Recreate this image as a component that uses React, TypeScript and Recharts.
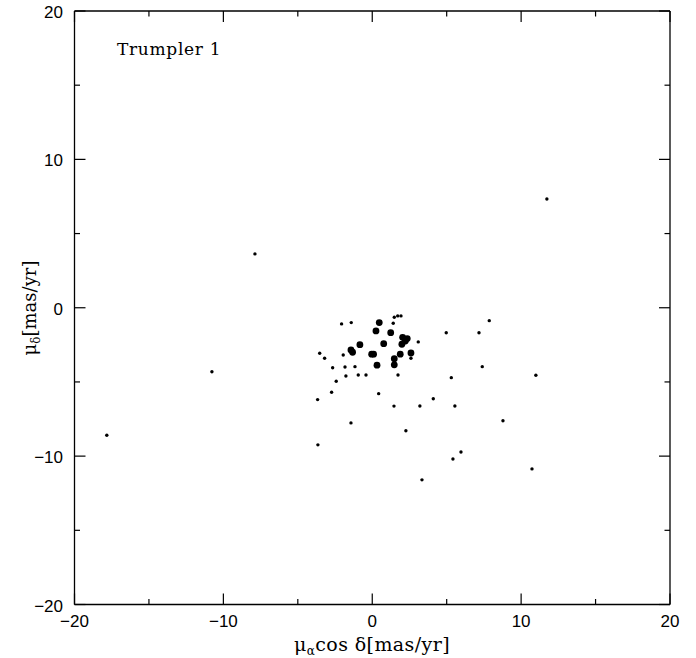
import { ScatterChart, Scatter, XAxis, YAxis } from "recharts";

// proper motions of the brighter members (large dots)
const brightPmRa = [0.47, 0.25, 1.24, 2.04, 2.35, 2.22, 1.99, -0.83, 0.77, -1.43, -1.32, -0.04, 0.09, 1.88, 2.6, 1.48, 0.32, 1.48];
const brightPmDec = [-1.0, -1.56, -1.68, -1.99, -2.08, -2.24, -2.46, -2.49, -2.42, -2.84, -3.0, -3.13, -3.13, -3.13, -3.05, -3.43, -3.87, -3.85];

// fainter stars (small dots)
const faintPmRa = [
  11.73, -7.88, -10.77, -17.83, 10.99, 10.73, 8.78, 7.86, 7.17, 7.39, 4.97, 5.31, 5.55, 5.96, 5.42,
  4.1, 3.2, 3.34, 2.26, 1.46, 0.43, -1.43, -3.65, -3.67, -2.73, -2.42, -3.53, -3.2, -2.06, -1.41,
  1.48, 1.71, 1.93, 1.41, 3.09, -1.95, 2.6, -2.66, -1.83, -1.16, -1.77, -0.94, -0.42, 1.73,
];
const faintPmDec = [
  7.33, 3.63, -4.31, -8.59, -4.55, -10.86, -7.62, -0.87, -1.68, -3.97, -1.68, -4.71, -6.62, -9.72, -10.19,
  -6.13, -6.62, -11.6, -8.29, -6.63, -5.79, -7.76, -9.24, -6.19, -5.69, -4.95, -3.07, -3.4, -1.09, -1.0,
  -0.64, -0.55, -0.55, -1.04, -2.3, -3.18, -3.4, -4.04, -3.99, -3.97, -4.6, -4.53, -4.53, -4.53,
];

const axisTicks = [-20, -15, -10, -5, 0, 5, 10, 15, 20];
const clusterName = "Trumpler 1";

const brightData = brightPmRa.map((x, i) => ({ x, y: brightPmDec[i] }));
const faintData = faintPmRa.map((x, i) => ({ x, y: faintPmDec[i] }));

const MAJOR = 11;
const MINOR = 5.5;
const labelFont = "'Liberation Sans', Arial, sans-serif";
const titleFont = "'DejaVu Serif', serif";

const fmt = (v: number) => (v < 0 ? "\u2212" + Math.abs(v) : String(v));
const isMajor = (v: number) => v % 10 === 0;

const BottomTick = (props: any) => {
  const { x, y, payload } = props;
  const v = payload.value;
  return (
    <g>
      <line x1={x} y1={y} x2={x} y2={y - (isMajor(v) ? MAJOR : MINOR)} stroke="#000" strokeWidth={1.2} />
      {isMajor(v) && (
        <text x={x} y={y + 22.5} textAnchor="middle" fontSize={17} fontFamily={labelFont} fill="#000">
          {fmt(v)}
        </text>
      )}
    </g>
  );
};

const TopTick = (props: any) => {
  const { x, y, payload } = props;
  return <line x1={x} y1={y} x2={x} y2={y + (isMajor(payload.value) ? MAJOR : MINOR)} stroke="#000" strokeWidth={1.2} />;
};

const LeftTick = (props: any) => {
  const { x, y, payload } = props;
  const v = payload.value;
  return (
    <g>
      <line x1={x} y1={y} x2={x + (isMajor(v) ? MAJOR : MINOR)} y2={y} stroke="#000" strokeWidth={1.2} />
      {isMajor(v) && (
        <text x={x - 11.5} y={y + 7} textAnchor="end" fontSize={17} fontFamily={labelFont} fill="#000">
          {fmt(v)}
        </text>
      )}
    </g>
  );
};

const RightTick = (props: any) => {
  const { x, y, payload } = props;
  return <line x1={x} y1={y} x2={x - (isMajor(payload.value) ? MAJOR : MINOR)} y2={y} stroke="#000" strokeWidth={1.2} />;
};

const Dot = (r: number) => (props: any) => <circle cx={props.cx} cy={props.cy} r={r} fill="#000" />;

export default function App() {
  return (
    <div style={{ position: "absolute", left: 0, top: 0, width: 696, height: 658, background: "#fff" }}>
      <ScatterChart width={696} height={658} margin={{ top: 10, right: 25, bottom: 0, left: 0 }}>
        <XAxis
          type="number"
          dataKey="x"
          domain={[-20, 20]}
          ticks={axisTicks}
          allowDataOverflow
          height={53.5}
          tickSize={0}
          tickMargin={0}
          tick={<BottomTick />}
          interval={0}
          axisLine={{ stroke: "#000", strokeWidth: 1.3 }}
        />
        <XAxis
          xAxisId="top"
          orientation="top"
          type="number"
          dataKey="x"
          domain={[-20, 20]}
          ticks={axisTicks}
          allowDataOverflow
          height={1}
          tickSize={0}
          tickMargin={0}
          tick={<TopTick />}
          interval={0}
          axisLine={{ stroke: "#000", strokeWidth: 1.3 }}
        />
        <YAxis
          type="number"
          dataKey="y"
          domain={[-20, 20]}
          ticks={axisTicks}
          allowDataOverflow
          width={74.5}
          tickSize={0}
          tickMargin={0}
          tick={<LeftTick />}
          interval={0}
          axisLine={{ stroke: "#000", strokeWidth: 1.3 }}
        />
        <YAxis
          yAxisId="right"
          orientation="right"
          type="number"
          dataKey="y"
          domain={[-20, 20]}
          ticks={axisTicks}
          allowDataOverflow
          width={1}
          tickSize={0}
          tickMargin={0}
          tick={<RightTick />}
          interval={0}
          axisLine={{ stroke: "#000", strokeWidth: 1.3 }}
        />
        {/* faint stars use the mirrored top/right axes (same scale) so those axes get drawn */}
        <Scatter data={faintData} xAxisId="top" yAxisId="right" shape={Dot(1.7)} isAnimationActive={false} />
        <Scatter data={brightData} shape={Dot(3.4)} isAnimationActive={false} />
        <text x={117} y={55} fontSize={17} letterSpacing={0.7} fontFamily={titleFont} fill="#000">
          {clusterName}
        </text>
        <text x={372} y={651} textAnchor="middle" fontSize={19} letterSpacing={0.4} fontFamily={titleFont} fill="#000">
          <tspan>μ</tspan>
          <tspan dy={4} fontSize={12}>α</tspan>
          <tspan dy={-4}>cos δ[mas/yr]</tspan>
        </text>
        <text
          x={0}
          y={0}
          transform="translate(36 308) rotate(-90)"
          textAnchor="middle"
          fontSize={18}
          fontFamily={titleFont}
          fill="#000"
        >
          <tspan>μ</tspan>
          <tspan dy={4} fontSize={12}>δ</tspan>
          <tspan dy={-4}>[mas/yr]</tspan>
        </text>
      </ScatterChart>
    </div>
  );
}
